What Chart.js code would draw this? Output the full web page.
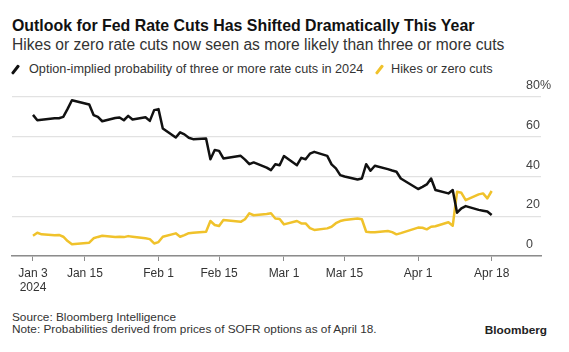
<!DOCTYPE html>
<html>
<head>
<meta charset="utf-8">
<script src="https://cdn.jsdelivr.net/npm/chart.js@4.4.1/dist/chart.umd.min.js"></script>
<style>
	html, body { margin: 0; padding: 0; background: #fff; }
	#wrap { position: relative; width: 569px; height: 352px; overflow: hidden; font-family: "Liberation Sans", Arial, sans-serif; color: #222; }
	.txt { position: absolute; white-space: nowrap; line-height: 1; }
	#title { left: 12px; top: 17.5px; font-size: 15.9px; font-weight: bold; color: #111; }
	#subtitle { left: 12px; top: 36.5px; font-size: 15.6px; color: #333; }
	.legend { top: 63px; font-size: 12.7px; color: #333; }
	.slash { position: absolute; top: 64px; width: 2.8px; height: 11px; border-radius: 1px; transform: rotate(38deg); }
	#source { left: 12px; top: 311.5px; font-size: 11.8px; color: #333; }
	#note { left: 12px; top: 324.3px; font-size: 11.8px; color: #333; }
	#brand { right: 22px; top: 324.5px; font-size: 11.8px; font-weight: bold; color: #222; }
	#chartBox { position: absolute; left: 0; top: 75px; width: 569px; height: 230px; }
</style>
</head>
<body>
<div id="wrap">
	<div class="txt" id="title">Outlook for Fed Rate Cuts Has Shifted Dramatically This Year</div>
	<div class="txt" id="subtitle">Hikes or zero rate cuts now seen as more likely than three or more cuts</div>
	<span class="slash" style="left:14px; background:#111;"></span>
	<div class="txt legend" style="left:29px;">Option-implied probability of three or more rate cuts in 2024</div>
	<span class="slash" style="left:378px; background:#f0c22b;"></span>
	<div class="txt legend" style="left:391px;">Hikes or zero cuts</div>
	<div id="chartBox"><canvas id="rateChart" width="569" height="230"></canvas></div>
	<div class="txt" id="source">Source: Bloomberg Intelligence</div>
	<div class="txt" id="note">Note: Probabilities derived from prices of SOFR options as of April 18.</div>
	<div class="txt" id="brand">Bloomberg</div>
</div>
<script>
// trading days, 2024
const dates = [
	'2024-01-03', '2024-01-04', '2024-01-05', '2024-01-08', '2024-01-09', '2024-01-10', '2024-01-11', '2024-01-12', '2024-01-16', '2024-01-17',
	'2024-01-18', '2024-01-19', '2024-01-22', '2024-01-23', '2024-01-24', '2024-01-25', '2024-01-26', '2024-01-29', '2024-01-30', '2024-01-31',
	'2024-02-01', '2024-02-02', '2024-02-05', '2024-02-06', '2024-02-07', '2024-02-08', '2024-02-09', '2024-02-12', '2024-02-13', '2024-02-14',
	'2024-02-15', '2024-02-16', '2024-02-20', '2024-02-21', '2024-02-22', '2024-02-23', '2024-02-26', '2024-02-27', '2024-02-28', '2024-02-29',
	'2024-03-01', '2024-03-04', '2024-03-05', '2024-03-06', '2024-03-07', '2024-03-08', '2024-03-11', '2024-03-12', '2024-03-13', '2024-03-14',
	'2024-03-15', '2024-03-18', '2024-03-19', '2024-03-20', '2024-03-21', '2024-03-22', '2024-03-25', '2024-03-26', '2024-03-27', '2024-03-28',
	'2024-04-01', '2024-04-02', '2024-04-03', '2024-04-04', '2024-04-05', '2024-04-08', '2024-04-09', '2024-04-10', '2024-04-11', '2024-04-12',
	'2024-04-15', '2024-04-16', '2024-04-17', '2024-04-18'
];

// option-implied probability of three or more cuts (%)
const threeOrMoreCuts = [
	71, 68.3, 68.6, 69.3, 69.3, 70, 74, 78.4, 76.2, 70.9,
	70, 67.8, 69.4, 69.7, 68.3, 70.5, 68.7, 69.8, 68, 73.4,
	73.9, 64.2, 59.6, 62.2, 61.2, 59.5, 58.8, 59.1, 48.7, 53.3,
	52.9, 49.1, 50.4, 48.5, 46.2, 47.1, 44.5, 43.2, 46.2, 45.7,
	50.3, 45.7, 49.4, 48.7, 51.5, 52.4, 50.4, 46.1, 44.1, 40.7,
	40, 38.5, 39, 46.2, 42.9, 45.4, 43.7, 43, 42.4, 39,
	33.7, 34.8, 36, 39, 33.2, 31.5, 33.2, 21.8, 24, 25.1,
	23.2, 22.8, 22.4, 20.6
];

// hikes or zero cuts (%)
const hikesOrZeroCuts = [
	10.2, 11.7, 10.9, 10.4, 10.6, 9.7, 7.5, 5.9, 6.7, 8.9,
	9.6, 10.2, 9.6, 9.7, 9.5, 10, 9.7, 8.9, 8.5, 6.3,
	7, 9.7, 11.4, 9.7, 10.5, 11.5, 11.7, 12.2, 17.6, 15.6,
	15.1, 18.1, 17.2, 18.5, 21.5, 20.5, 21.1, 21.5, 18.9, 18.6,
	15.9, 17.6, 16.4, 16.4, 14, 13.1, 13.9, 14.7, 16.5, 17.6,
	18.1, 18.9, 18.5, 12.2, 12, 11.9, 12.6, 12, 10.9, 11.5,
	14.3, 14.2, 13.4, 14.7, 15, 17, 15.2, 32.3, 31.8, 28.1,
	31, 31.5, 29, 32.7
];

const xTickDates = ['2024-01-03', '2024-01-15', '2024-02-01', '2024-02-15', '2024-03-01', '2024-03-15', '2024-04-01', '2024-04-18'];
const xTickLabels = [['Jan 3', '2024'], 'Jan 15', 'Feb 1', 'Feb 15', 'Mar 1', 'Mar 15', 'Apr 1', 'Apr 18'];
const yTicks = [0, 20, 40, 60, 80];
const yTickLabels = ['0', '20', '40', '60', '80%'];

(function () {
	const startMs = Date.UTC(2024, 0, 3);
	const dayOf = (s) => {
		const p = s.split('-').map(Number);
		return (Date.UTC(p[0], p[1] - 1, p[2]) - startMs) / 86400000;
	};
	const xs = dates.map(dayOf);
	const xTicks = xTickDates.map(dayOf);

	const yLabelPlugin = {
		id: 'yLabels',
		afterDraw(chart) {
			const ctx = chart.ctx;
			const y = chart.scales.y;
			ctx.save();
			ctx.font = '12.5px "Liberation Sans", Arial, sans-serif';
			ctx.fillStyle = '#444';
			ctx.textAlign = 'left';
			ctx.textBaseline = 'alphabetic';
			yTicks.forEach((v, i) => {
				ctx.fillText(yTickLabels[i], 526, y.getPixelForValue(v) - 8);
			});
			ctx.restore();
		}
	};

	new Chart(document.getElementById('rateChart'), {
		type: 'line',
		data: {
			datasets: [{
				label: 'Option-implied probability of three or more rate cuts in 2024',
				data: xs.map((x, i) => ({ x: x, y: threeOrMoreCuts[i] })),
				borderColor: '#111',
				borderWidth: 2.5,
				pointRadius: 0,
				tension: 0,
				borderJoinStyle: 'round'
			}, {
				label: 'Hikes or zero cuts',
				data: xs.map((x, i) => ({ x: x, y: hikesOrZeroCuts[i] })),
				borderColor: '#f0c22b',
				borderWidth: 2.5,
				pointRadius: 0,
				tension: 0,
				borderJoinStyle: 'round'
			}]
		},
		options: {
			responsive: false,
			animation: false,
			devicePixelRatio: 1,
			layout: { padding: { top: 22, left: 12, right: 28, bottom: 0 } },
			plugins: { legend: { display: false }, tooltip: { enabled: false } },
			scales: {
				x: {
					type: 'linear',
					min: -4.85,
					max: 117.4,
					afterBuildTicks: (s) => { s.ticks = xTicks.map(v => ({ value: v })); },
					afterFit: (s) => { s.height = 49; },
					ticks: {
						autoSkip: false,
						maxRotation: 0,
						padding: 5,
						color: '#333',
						font: { family: '"Liberation Sans", Arial, sans-serif', size: 12 },
						callback: (v, i) => xTickLabels[i]
					},
					grid: { drawOnChartArea: false, drawTicks: true, tickLength: 5, color: '#8c8c8c', lineWidth: 1 },
					border: { color: '#8c8c8c', width: 1.5 }
				},
				y: {
					min: 0,
					max: 80,
					afterBuildTicks: (s) => { s.ticks = yTicks.map(v => ({ value: v })); },
					afterFit: (s) => { s.width = 0; },
					ticks: { display: false },
					grid: { color: '#e2e2e2', lineWidth: 1.3, drawTicks: false },
					border: { display: false }
				}
			}
		},
		plugins: [yLabelPlugin]
	});
})();
</script>
</body>
</html>
